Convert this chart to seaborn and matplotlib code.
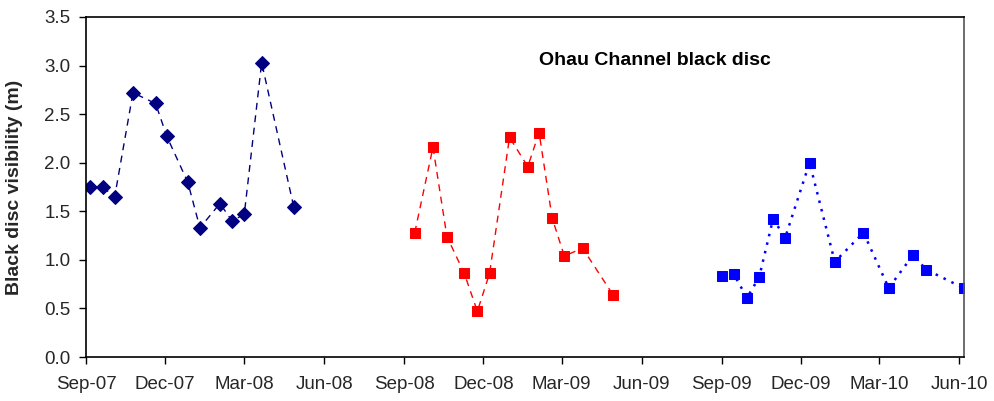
import matplotlib
matplotlib.use("Agg")
import matplotlib.pyplot as plt
import matplotlib.dates as mdates
import seaborn as sns
import pandas as pd
import numpy as np

# ---- data ----
dates_0708 = ["2007-09-06", "2007-09-20", "2007-10-04", "2007-10-25", "2007-11-20",
              "2007-12-03", "2007-12-27", "2008-01-10", "2008-02-02", "2008-02-16",
              "2008-03-01", "2008-03-21", "2008-04-27"]
vis_0708 = [1.75, 1.75, 1.65, 2.72, 2.61, 2.27, 1.80, 1.33, 1.58, 1.40, 1.47, 3.03, 1.54]

dates_0809 = ["2008-09-13", "2008-10-04", "2008-10-20", "2008-11-09", "2008-11-24",
              "2008-12-08", "2008-12-31", "2009-01-21", "2009-02-03", "2009-02-18",
              "2009-03-04", "2009-03-25", "2009-04-29"]
vis_0809 = [1.28, 2.16, 1.24, 0.86, 0.47, 0.86, 2.26, 1.96, 2.31, 1.43, 1.04, 1.12, 0.64]

dates_0910 = ["2009-09-01", "2009-09-15", "2009-09-30", "2009-10-14", "2009-10-30",
              "2009-11-13", "2009-12-11", "2010-01-09", "2010-02-11", "2010-03-12",
              "2010-04-09", "2010-04-24", "2010-06-06"]
vis_0910 = [0.83, 0.85, 0.61, 0.82, 1.42, 1.23, 2.00, 0.98, 1.28, 0.71, 1.05, 0.90, 0.71]

title_text = "Ohau Channel black disc"
y_label = "Black disc visibility (m)"
y_ticks = [0.0, 0.5, 1.0, 1.5, 2.0, 2.5, 3.0, 3.5]
x_tick_dates = ["2007-09-01", "2007-12-01", "2008-03-01", "2008-06-01", "2008-09-01",
                "2008-12-01", "2009-03-01", "2009-06-01", "2009-09-01", "2009-12-01",
                "2010-03-01", "2010-06-01"]

sns.set_theme(style="white")
plt.rcParams['font.family'] = ['Liberation Sans', 'DejaVu Sans']

fig = plt.figure(figsize=(9.94, 4.01), dpi=100)
ax = fig.add_axes([86 / 994, 1 - 357 / 401, (963.5 - 86) / 994, (357 - 17) / 401])

df1 = pd.DataFrame({"date": pd.to_datetime(dates_0708), "vis": vis_0708})
df2 = pd.DataFrame({"date": pd.to_datetime(dates_0809), "vis": vis_0809})
df3 = pd.DataFrame({"date": pd.to_datetime(dates_0910), "vis": vis_0910})

sns.lineplot(data=df1, x="date", y="vis", ax=ax, color="#000080", linestyle=(0, (5, 4)),
             linewidth=1.0, marker="D", markersize=7, markeredgecolor="#000080",
             estimator=None, sort=False)
sns.lineplot(data=df2, x="date", y="vis", ax=ax, color="#FF0000", linestyle=(0, (5, 4)),
             linewidth=1.0, marker="s", markersize=7, markeredgecolor="#FF0000",
             estimator=None, sort=False)
sns.lineplot(data=df3, x="date", y="vis", ax=ax, color="#0000FF", linestyle=(0, (1, 2.5)),
             linewidth=1.8, marker="s", markersize=7, markeredgecolor="#0000FF",
             estimator=None, sort=False)

ax.set_xlim(pd.Timestamp("2007-09-01"), pd.Timestamp("2010-06-06"))
ax.set_ylim(0, 3.5)
ax.set_yticks(y_ticks)
ax.set_yticklabels([f"{v:.1f}" for v in y_ticks], fontsize=13.5)
ax.set_xticks(pd.to_datetime(x_tick_dates))
ax.xaxis.set_major_formatter(mdates.DateFormatter("%b-%y"))
ax.tick_params(axis="x", labelsize=13.5, length=5, width=1, color="black", direction="out", pad=9)
ax.tick_params(axis="y", labelsize=13.5, length=5, width=1, color="black", direction="out", pad=6)
ax.tick_params(bottom=True, left=True)

ax.set_xlabel("")
ax.set_ylabel(y_label, fontsize=14, fontweight="bold")
ax.yaxis.set_label_coords(-0.072, 0.5)

for s in ax.spines.values():
    s.set_visible(True)
    s.set_color("black")
    s.set_linewidth(1.2)
ax.spines["right"].set_color("#555555")

ax.text(0.648, 0.871, title_text, transform=ax.transAxes, ha="center", va="center",
        fontsize=14, fontweight="bold", color="black")

fig.savefig("out.png", dpi=100, facecolor="white")
